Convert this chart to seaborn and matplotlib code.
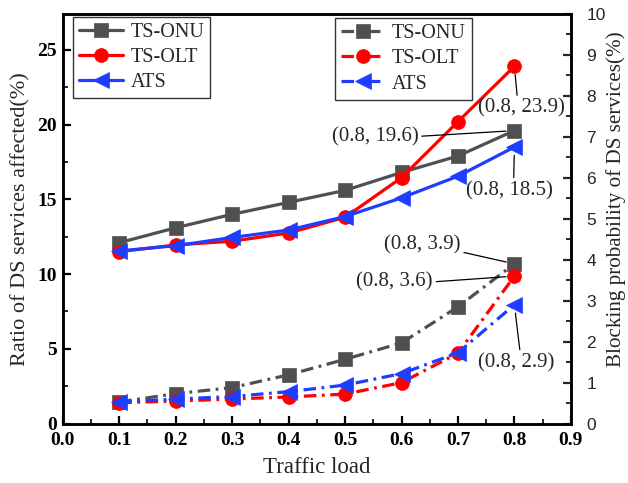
import matplotlib
matplotlib.use("Agg")
import matplotlib.pyplot as plt
from matplotlib.ticker import MultipleLocator
import seaborn as sns
import pandas as pd

sns.set_theme(style="ticks")
plt.rcParams["font.family"] = ["Liberation Serif", "DejaVu Serif"]
plt.rcParams["lines.scale_dashes"] = False

# Traffic load
load = [0.1, 0.2, 0.3, 0.4, 0.5, 0.6, 0.7, 0.8]

# Ratio of DS services affected (%) - left axis
ratio_onu = [12.1, 13.1, 14.0, 14.8, 15.6, 16.8, 17.9, 19.6]
ratio_olt = [11.5, 11.95, 12.2, 12.75, 13.8, 16.45, 20.2, 23.9]
ratio_ats = [11.55, 11.9, 12.45, 12.95, 13.85, 15.1, 16.55, 18.5]

# Blocking probability of DS services (%) - right axis
block_onu = [0.53, 0.73, 0.88, 1.19, 1.57, 1.97, 2.85, 3.9]
block_olt = [0.51, 0.55, 0.6, 0.65, 0.72, 1.0, 1.72, 3.6]
block_ats = [0.53, 0.6, 0.66, 0.78, 0.94, 1.22, 1.73, 2.9]

schemes = ["TS-ONU", "TS-OLT", "ATS"]
colors = {"TS-ONU": "#505050", "TS-OLT": "#FF0000", "ATS": "#1F3DFF"}
markers = {"TS-ONU": "s", "TS-OLT": "o", "ATS": "<"}
msizes = {"TS-ONU": 9.5, "TS-OLT": 10, "ATS": 11}

ratio = pd.DataFrame({"load": load, "TS-ONU": ratio_onu, "TS-OLT": ratio_olt, "ATS": ratio_ats})
block = pd.DataFrame({"load": load, "TS-ONU": block_onu, "TS-OLT": block_olt, "ATS": block_ats})

fig, ax = plt.subplots(figsize=(6.28, 4.83), dpi=100)
fig.subplots_adjust(left=0.1, right=0.909, top=0.971, bottom=0.123)
ax2 = ax.twinx()

dashdot = (0, (9, 4, 2, 4))
for s in schemes:
    sns.lineplot(data=ratio, x="load", y=s, ax=ax, color=colors[s], marker=markers[s],
                 markersize=msizes[s], markeredgecolor=colors[s], markeredgewidth=0.5,
                 linewidth=2.3, label=s, legend=False)
    sns.lineplot(data=block, x="load", y=s, ax=ax2, color=colors[s], marker=markers[s],
                 markersize=msizes[s], markeredgecolor=colors[s], markeredgewidth=0.5,
                 linewidth=2.3, linestyle=dashdot, label=s, legend=False)

ax.set_xlim(0, 0.9)
ax.set_ylim(0, 27.4)
ax2.set_ylim(0, 10)

ax.xaxis.set_major_locator(MultipleLocator(0.1))
ax.xaxis.set_minor_locator(MultipleLocator(0.05))
ax.yaxis.set_major_locator(MultipleLocator(5))
ax.yaxis.set_minor_locator(MultipleLocator(2.5))
ax2.yaxis.set_major_locator(MultipleLocator(1))
ax2.yaxis.set_minor_locator(MultipleLocator(0.5))
ax.set_xticklabels([f"{v:.1f}" for v in ax.get_xticks()])

for a in (ax, ax2):
    for sp in a.spines.values():
        sp.set_linewidth(1.8)
        sp.set_color("black")
        sp.set_visible(True)

ax.tick_params(axis="both", which="major", direction="in", length=6, width=1.6,
               labelsize=14, colors="black")
ax.tick_params(axis="x", pad=6)
ax.tick_params(axis="y", pad=4)
ax.tick_params(axis="both", which="minor", direction="in", length=3.5, width=1.4)
ax.tick_params(axis="y", right=False)
ax.tick_params(axis="x", top=False)
for lab in ax.get_xticklabels() + ax.get_yticklabels():
    lab.set_fontweight("bold")

ax2.tick_params(axis="y", which="major", direction="in", length=6, width=1.6,
                labelsize=12.5, pad=11)
ax2.tick_params(axis="y", which="minor", direction="in", length=3.5, width=1.4)
for lab in ax2.get_yticklabels():
    lab.set_family("Liberation Sans")

ax.set_xlabel("Traffic load", fontsize=16.5, labelpad=6)
ax.set_ylabel("Ratio of DS services affected(%)", fontsize=16, labelpad=5)
ax2.set_ylabel("Blocking probability of DS services(%)", fontsize=15.2)
ax2.yaxis.set_label_coords(1.07, 0.548)

leg_kw = dict(fontsize=14.5, frameon=True, fancybox=False, edgecolor="black",
              handlelength=2.2, handletextpad=0.35, borderpad=0.3, labelspacing=0.3,
              borderaxespad=0.0, loc="upper left")
l1 = ax.legend(bbox_to_anchor=(0.02, 0.993), **leg_kw)
l1.get_frame().set_linewidth(1.0)
l2 = ax2.legend(bbox_to_anchor=(0.535, 0.99), **leg_kw)
l2.get_frame().set_linewidth(1.0)

# value callouts at the last load point
ann = dict(fontsize=15, ha="center", va="center")
line = dict(arrowstyle="-", color="black", lw=0.9, shrinkA=0, shrinkB=6)
ax.annotate(f"(0.8, {ratio_olt[-1]})", xy=(load[-1], ratio_olt[-1]),
            xytext=(0.813, 21.1), arrowprops=dict(line, relpos=(0.45, 1.0)), **ann)
ax.annotate(f"(0.8, {ratio_onu[-1]})", xy=(load[-1], ratio_onu[-1]),
            xytext=(0.5535, 19.15), arrowprops=dict(line, relpos=(1.0, 0.55)), **ann)
ax.annotate(f"(0.8, {ratio_ats[-1]})", xy=(load[-1], ratio_ats[-1]),
            xytext=(0.791, 15.6), arrowprops=dict(line, relpos=(0.55, 1.0)), **ann)
ax2.annotate(f"(0.8, {block_onu[-1]})", xy=(load[-1], block_onu[-1]),
             xytext=(0.637, 4.36), arrowprops=dict(line, relpos=(1.0, 0.15)), **ann)
ax2.annotate(f"(0.8, {block_olt[-1]})", xy=(load[-1], block_olt[-1]),
             xytext=(0.588, 3.46), arrowprops=dict(line, relpos=(1.0, 0.5)), **ann)
ax2.annotate(f"(0.8, {block_ats[-1]})", xy=(load[-1], block_ats[-1]),
             xytext=(0.8035, 1.49), arrowprops=dict(line, relpos=(0.55, 1.0)), **ann)

fig.savefig("out.png", dpi=100)
